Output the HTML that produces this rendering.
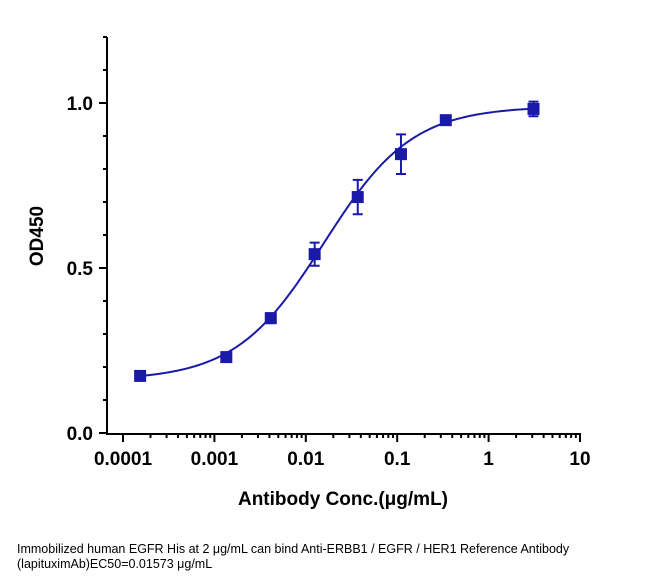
<!DOCTYPE html>
<html><head><meta charset="utf-8"><style>
body{margin:0;background:#fff;width:660px;height:581px;overflow:hidden}
svg text{font-family:"Liberation Sans",Arial,sans-serif}
</style></head><body>
<svg id="chart" width="660" height="581" viewBox="0 0 660 581" xmlns="http://www.w3.org/2000/svg">
<g id="axes"></g>
<g id="marks"></g>
<text transform="translate(43,236) rotate(-90)" text-anchor="middle" font-size="19" font-weight="bold">OD450</text>
<text x="343" y="505" text-anchor="middle" font-size="19" font-weight="bold">Antibody Conc.(μg/mL)</text>
<text x="17" y="553" font-size="12.5">Immobilized human EGFR His at 2 μg/mL can bind  Anti-ERBB1 / EGFR / HER1 Reference Antibody</text>
<text x="17" y="568" font-size="12.5">(lapituximAb)EC50=0.01573 μg/mL</text>
</svg>
<script>
const concs=[0.000154,0.00135,0.00414,0.0125,0.037,0.11,0.34,3.1];
const ods=[0.173,0.230,0.348,0.542,0.715,0.845,0.948,0.982];
const errs=[0.006,0.008,0.015,0.035,0.052,0.06,0.01,0.022];
const fitBottom=0.16, fitTop=0.99, fitEC50=0.01573, fitHill=0.9;
const xTicks=[0.0001,0.001,0.01,0.1,1,10];
const xTickLabels=["0.0001","0.001","0.01","0.1","1","10"];
const yTicks=[0,0.5,1.0];
const yTickLabels=["0.0","0.5","1.0"];
const NS="http://www.w3.org/2000/svg";
const X=v=>123+(Math.log10(v)+4)*91.4;
const Y=v=>433-v*330;
function mk(tag,attrs,parent){const e=document.createElementNS(NS,tag);for(const k in attrs)e.setAttribute(k,attrs[k]);parent.appendChild(e);return e;}
const ax=document.getElementById('axes'), mg=document.getElementById('marks');
const C='#1a1aa8';
let e=mk('line',{x1:107,y1:37,x2:107,y2:435,stroke:'#000','stroke-width':2},ax);

e=mk('line',{x1:106,y1:434,x2:581,y2:434,stroke:'#000','stroke-width':2},ax);

// y ticks (major + minor)
for(let v=0;v<=1.201;v+=0.1){const maj=Math.abs(v*2-Math.round(v*2))<1e-6;
 e=mk('line',{x1:maj?99:103,y1:Y(v),x2:107,y2:Y(v),stroke:'#000','stroke-width':2},ax);
 }
yTicks.forEach((v,i)=>{e=mk('text',{x:93,y:Y(v)+7,'text-anchor':'end','font-size':19,'font-weight':'bold'},ax);e.textContent=yTickLabels[i];
 });
// x ticks
for(let d=-4;d<=1;d++){for(let m=1;m<=9;m++){if(d==1&&m>1)break;const v=m*Math.pow(10,d);
 e=mk('line',{x1:X(v),y1:434,x2:X(v),y2:m==1?442:438,stroke:'#000','stroke-width':2},ax);
 }}
xTicks.forEach((v,i)=>{e=mk('text',{x:X(v),y:465,'text-anchor':'middle','font-size':19,'font-weight':'bold'},ax);e.textContent=xTickLabels[i];
 });
// fit curve
let d='';for(let i=0;i<=200;i++){const lx=Math.log10(concs[0])+i*(Math.log10(concs[concs.length-1])-Math.log10(concs[0]))/200;const v=Math.pow(10,lx);
 const y=fitBottom+(fitTop-fitBottom)/(1+Math.pow(fitEC50/v,fitHill));d+=(i?'L':'M')+X(v).toFixed(2)+','+Y(y).toFixed(2);}
e=mk('path',{d:d,fill:'none',stroke:C,'stroke-width':2},mg);

concs.forEach((c,i)=>{const x=X(c),y=Y(ods[i]);
 if(errs[i]>0.012){const t=Y(ods[i]+errs[i]),b=Y(ods[i]-errs[i]);
  e=mk('path',{d:`M${x},${t}V${b}M${x-5},${t}H${x+5}M${x-5},${b}H${x+5}`,stroke:C,'stroke-width':2,fill:'none'},mg);
  }
 e=mk('rect',{x:x-6,y:y-6,width:12,height:12,fill:C},mg);
 });
</script>
</body></html>
